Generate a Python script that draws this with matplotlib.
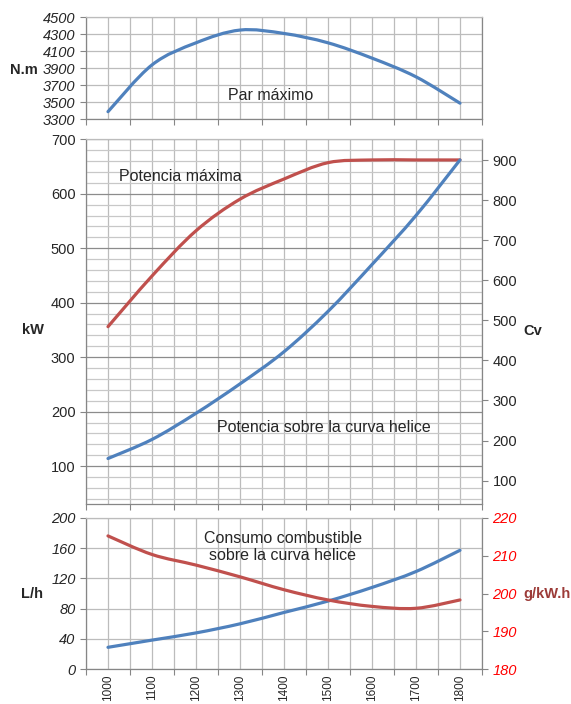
import matplotlib
matplotlib.use('Agg')
import matplotlib.pyplot as plt
from matplotlib.path import Path
from matplotlib.patches import PathPatch
from matplotlib.ticker import MultipleLocator, FixedLocator, FixedFormatter

plt.rcParams['font.family'] = ['Liberation Sans', 'DejaVu Sans']

# Datos (rpm en categorias)
rpm = ['1000', '1100', '1200', '1300', '1400', '1500', '1600', '1700', '1800']
par_max = [3390, 3940, 4200, 4350, 4310, 4200, 4020, 3800, 3490]          # N.m
pot_max = [356, 449, 532, 590, 627, 657, 662, 662, 662]                   # kW
pot_helice = [114, 149, 197, 251, 310, 384, 470, 560, 662]                # kW
consumo_lh = [29, 38.5, 48, 60, 75, 90, 108, 129, 157]                    # L/h
consumo_esp = [215.2, 210.3, 207.5, 204.4, 201.0, 198.3, 196.6, 196.1, 198.3]  # g/kW.h

par_ticks = [3300, 3500, 3700, 3900, 4100, 4300, 4500]

BLUE = '#4F81BD'
RED = '#C0504D'
GRID = '#bcbcbc'
AXIS = '#868686'
TXT = '#262626'


def smooth_line(ax, ys, color):
    # curva suavizada tipo Excel (Bezier entre los puntos de datos)
    pts = list(zip(range(len(ys)), ys))
    verts = [pts[0]]
    codes = [Path.MOVETO]
    for i in range(len(pts) - 1):
        p0 = pts[i - 1] if i > 0 else pts[i]
        p1, p2 = pts[i], pts[i + 1]
        p3 = pts[i + 2] if i + 2 < len(pts) else pts[i + 1]
        c1 = (p1[0] + (p2[0] - p0[0]) / 6, p1[1] + (p2[1] - p0[1]) / 6)
        c2 = (p2[0] - (p3[0] - p1[0]) / 6, p2[1] - (p3[1] - p1[1]) / 6)
        verts += [c1, c2, p2]
        codes += [Path.CURVE4] * 3
    ax.add_patch(PathPatch(Path(verts, codes), fill=False, edgecolor=color,
                           lw=2.3, capstyle='round', joinstyle='round', zorder=3))


def style_axes(ax):
    ax.set_xlim(-0.5, len(rpm) - 0.5)
    ax.xaxis.set_major_locator(FixedLocator([i - 0.5 for i in range(len(rpm) + 1)]))
    ax.xaxis.set_minor_locator(FixedLocator(range(len(rpm))))
    ax.xaxis.set_major_formatter(plt.NullFormatter())
    ax.xaxis.set_minor_formatter(plt.NullFormatter())
    ax.grid(which='both', axis='x', color=GRID, lw=0.9)
    ax.tick_params(axis='x', which='major', direction='out', length=4, color=AXIS)
    ax.tick_params(axis='x', which='minor', length=0)
    ax.tick_params(axis='y', direction='out', length=4, color=AXIS, labelcolor=TXT, labelsize=10.5)
    ax.set_axisbelow(True)
    for s in ax.spines.values():
        s.set_color(AXIS)
        s.set_linewidth(0.9)
    ax.spines['top'].set_color(GRID)


fig = plt.figure(figsize=(5.71, 7.04), dpi=100)

# --- Par maximo ---
ax1 = fig.add_axes([0.1506, 0.8305, 0.6935, 0.1449])
style_axes(ax1)
ax1.set_ylim(par_ticks[0], par_ticks[-1])
ax1.yaxis.set_major_locator(FixedLocator(par_ticks))
ax1.grid(axis='y', color=GRID, lw=0.9)
for t in ax1.get_yticklabels():
    t.set_fontstyle('italic')
smooth_line(ax1, par_max, BLUE)
ax1.text(0.465, 0.238, 'Par máximo', transform=ax1.transAxes, ha='center', va='center',
         fontsize=11.5, color=TXT)

# --- Potencia ---
ax2 = fig.add_axes([0.1506, 0.2837, 0.6935, 0.5185])
style_axes(ax2)
ax2.set_ylim(30, 700)
ax2.yaxis.set_major_locator(MultipleLocator(100))
ax2.yaxis.set_minor_locator(MultipleLocator(20))
ax2.tick_params(axis='y', which='minor', length=0)
ax2.grid(axis='y', which='major', color='#8c8c8c', lw=0.9)
ax2.grid(axis='y', which='minor', color='#c8c8c8', lw=0.9)
smooth_line(ax2, pot_max, RED)
smooth_line(ax2, pot_helice, BLUE)
ax2.text(0.237, 0.897, 'Potencia máxima', transform=ax2.transAxes, ha='center', va='center',
         fontsize=11.5, color=TXT)
ax2.text(0.600, 0.209, 'Potencia sobre la curva helice', transform=ax2.transAxes,
         ha='center', va='center', fontsize=11.5, color=TXT)

ax2r = ax2.twinx()
ax2r.set_ylim(30 * 1.36, 700 * 1.36)
ax2r.yaxis.set_major_locator(MultipleLocator(100))
ax2r.tick_params(axis='y', direction='out', length=4, color=AXIS, labelcolor=TXT, labelsize=10.5)
for s in ax2r.spines.values():
    s.set_visible(False)

# --- Consumo ---
ax3 = fig.add_axes([0.1506, 0.0493, 0.6935, 0.2153])
style_axes(ax3)
ax3.set_ylim(0, 200)
ax3.yaxis.set_major_locator(MultipleLocator(40))
ax3.grid(axis='y', color=GRID, lw=0.9)
for t in ax3.get_yticklabels():
    t.set_fontstyle('italic')
ax3.xaxis.set_minor_formatter(FixedFormatter(rpm))
ax3.tick_params(axis='x', which='minor', labelsize=8.5, labelrotation=90, labelcolor=TXT, pad=4)
smooth_line(ax3, consumo_lh, BLUE)
ax3.text(0.497, 0.807, 'Consumo combustible\nsobre la curva helice', transform=ax3.transAxes,
         ha='center', va='center', fontsize=11.5, color=TXT, linespacing=1.15)

ax3r = ax3.twinx()
ax3r.set_ylim(180, 220)
ax3r.yaxis.set_major_locator(MultipleLocator(10))
ax3r.tick_params(axis='y', direction='out', length=4, color=AXIS, labelcolor='#FF0000', labelsize=10.5)
for t in ax3r.get_yticklabels():
    t.set_fontstyle('italic')
for s in ax3r.spines.values():
    s.set_visible(False)
smooth_line(ax3r, consumo_esp, RED)

# etiquetas de unidades
fig.text(0.042, 0.9006, 'N.m', ha='center', va='center', fontsize=10.5, fontweight='bold', color=TXT)
fig.text(0.058, 0.531, 'kW', ha='center', va='center', fontsize=10.5, fontweight='bold', color=TXT)
fig.text(0.9335, 0.530, 'Cv', ha='center', va='center', fontsize=10.5, fontweight='bold', color=TXT)
fig.text(0.056, 0.156, 'L/h', ha='center', va='center', fontsize=10.5, fontweight='bold', color=TXT)
fig.text(0.958, 0.156, 'g/kW.h', ha='center', va='center', fontsize=10.5, fontweight='bold',
         color='#9C3B38')

fig.savefig('out.png', dpi=100)
